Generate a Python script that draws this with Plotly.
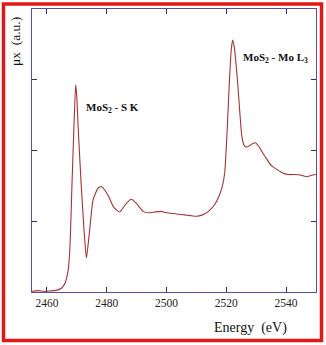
import plotly.graph_objects as go

energy = [2455, 2457, 2459, 2461, 2462.5, 2463.8, 2465, 2466, 2467.1, 2467.7, 2468.4, 2469.0, 2469.6,
          2470.0, 2470.4, 2471.4, 2472.4, 2473.2, 2474.3, 2475.4, 2477.1, 2478.2, 2480.4, 2482.3,
          2484.3, 2486.3, 2488.2, 2490, 2492.2, 2494, 2496, 2498, 2500, 2502, 2504, 2506, 2508,
          2510, 2512, 2514, 2516, 2517.5, 2518.7, 2519.5, 2520.3, 2521, 2521.6, 2522.1, 2522.7,
          2523.3, 2523.9, 2524.5, 2525.2, 2526, 2527, 2528.5, 2529.7, 2531, 2532, 2533.5, 2535,
          2537, 2539, 2541, 2543, 2545, 2547, 2548.5, 2550]
mux = [0.01, 0.02, 0.01, 0.015, 0.02, 0.03, 0.06, 0.12, 0.31, 0.64, 1.56, 2.3, 2.93,
       2.75, 2.36, 1.56, 0.88, 0.48, 0.88, 1.3, 1.47, 1.49, 1.37, 1.2,
       1.13, 1.24, 1.31, 1.25, 1.14, 1.12, 1.13, 1.14, 1.12, 1.11, 1.10, 1.09, 1.08,
       1.07, 1.09, 1.14, 1.23, 1.35, 1.5, 1.7, 2.3, 2.95, 3.4, 3.56, 3.45,
       3.2, 2.9, 2.55, 2.2, 2.07, 2.05, 2.09, 2.11, 2.05, 1.98, 1.88, 1.79,
       1.73, 1.68, 1.66, 1.66, 1.65, 1.63, 1.65, 1.66]

xticks = [2460, 2480, 2500, 2520, 2540]
yticks = [0, 1, 2, 3, 4]

serif = "Liberation Serif"
axcol = "#5050a8"

fig = go.Figure()
fig.add_trace(go.Scatter(x=energy, y=mux, mode="lines",
                         line=dict(color="#a83232", width=1.1, shape="spline", smoothing=0.5),
                         showlegend=False, hoverinfo="skip"))

fig.update_layout(
    width=326, height=345,
    margin=dict(l=32, r=10, t=9, b=53),
    paper_bgcolor="white", plot_bgcolor="white",
    xaxis=dict(range=[2455, 2550], tickvals=xticks, ticktext=[str(t) for t in xticks],
               ticks="inside", ticklen=5, tickcolor="#2a2a90", showline=True, linecolor=axcol,
               linewidth=1, mirror="ticks", showgrid=False, zeroline=False,
               tickfont=dict(family=serif, size=11.5, color="#222")),
    yaxis=dict(range=[0, 4], tickvals=yticks, showticklabels=False,
               ticks="inside", ticklen=5, tickcolor="#2a2a90", showline=True, linecolor=axcol,
               linewidth=1, mirror="ticks", showgrid=False, zeroline=False),
    annotations=[
        dict(text="<b>MoS<sub>2</sub> - S K</b>", x=2472.3, y=2.6, xref="x", yref="y",
             xanchor="left", yanchor="middle", showarrow=False,
             font=dict(family=serif, size=11, color="#111")),
        dict(text="<b>MoS<sub>2</sub> - Mo L<sub>3</sub></b>", x=2525, y=3.31, xref="x", yref="y",
             xanchor="left", yanchor="middle", showarrow=False,
             font=dict(family=serif, size=11, color="#111")),
        dict(text="Energy  (eV)", x=250.5, y=328, xref="paper", yref="paper",
             showarrow=False, font=dict(family=serif, size=14, color="#111")),
        dict(text="μx  (a.u.)", textangle=-90, x=15, y=42, showarrow=False,
             font=dict(family=serif, size=13.5, color="#111")),
    ],
    shapes=[
        dict(type="rect", xref="paper", yref="paper",
             x0=(3.5 - 32) / 284, x1=(321.5 - 32) / 284,
             y0=(292 - 340.5) / 283, y1=(292 - 4) / 283,
             line=dict(color="#e01818", width=3.5), fillcolor="rgba(0,0,0,0)", layer="above"),
    ],
)

# convert pixel positions of the two axis-title annotations into paper coordinates
for a in fig.layout.annotations:
    if a.text in ("Energy  (eV)", "μx  (a.u.)"):
        px, py = a.x, a.y
        a.xref = "paper"; a.yref = "paper"
        a.x = (px - 32) / 284
        a.y = (292 - py) / 283
        a.xanchor = "center"; a.yanchor = "middle"

fig.write_html("out.html")
